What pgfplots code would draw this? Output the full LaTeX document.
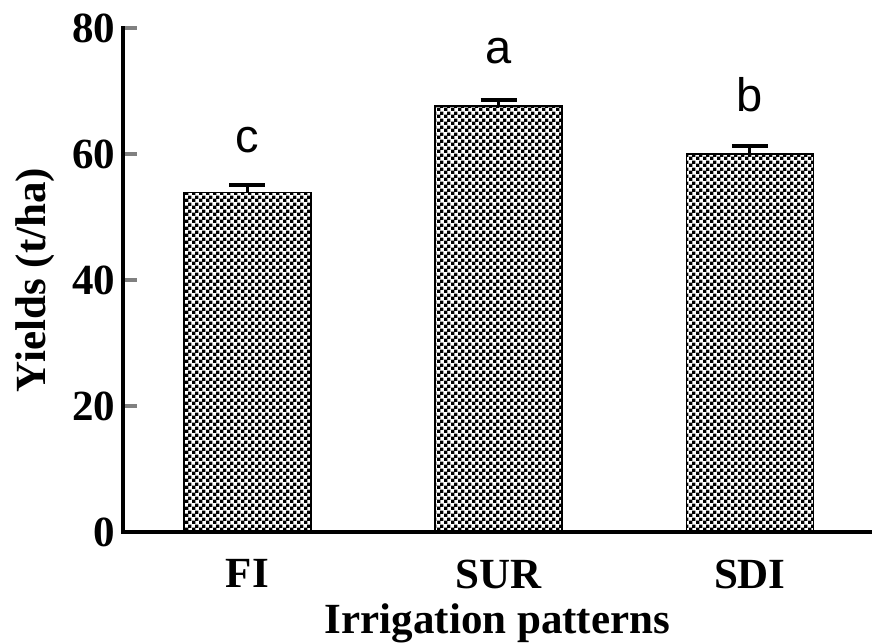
\documentclass[border=0pt]{standalone}
\usepackage{fontspec}
\setmainfont{Liberation Serif}
\newfontfamily\arialfont{Liberation Sans}
\usepackage{pgfplots}
\pgfplotsset{compat=1.18}
\usetikzlibrary{patterns.meta}
\pgfdeclarepattern{
  name=bigcheck,
  type=uncolored,
  bottom left={\pgfpointorigin},
  top right={\pgfqpoint{6.6pt}{6.6pt}},
  tile size={\pgfqpoint{6.6pt}{6.6pt}},
  code={
    \pgfpathrectangle{\pgfpointorigin}{\pgfqpoint{3.5pt}{3.5pt}}
    \pgfpathrectangle{\pgfqpoint{3.3pt}{3.3pt}}{\pgfqpoint{3.5pt}{3.5pt}}
    \pgfusepath{fill}
  }
}
\pgfplotstableread{
x y err
1 53.9 1.2
2 67.6 1.0
3 60.0 1.25
}\yields
\begin{document}
\begin{tikzpicture}
\begin{axis}[
  scale only axis,
  width=749pt, height=504pt,
  xmin=0.505, xmax=3.486,
  ymin=0, ymax=80,
  axis x line=bottom, axis y line=left,
  axis line style={-, line width=3.5pt, line cap=rect},
  xtick={1,2,3},
  xticklabels={FI,SUR,SDI},
  xtick style={draw=none},
  ytick={0,20,40,60,80},
  ytick style={line width=3.5pt},
  tick align=inside,
  major tick length=14pt,
  /pgf/number format/assume math mode=true,
  tick label style={font=\fontsize{43}{43}\selectfont\bfseries},
  xticklabel style={yshift=-10pt},
  yticklabel style={xshift=-4pt},
  xlabel={Irrigation patterns},
  ylabel={Yields (t/ha)},
  label style={font=\fontsize{43}{43}\selectfont\bfseries},
  xlabel style={yshift=-8pt},
  ylabel style={yshift=11pt},
  ybar, bar width=127pt,
  clip=false,
]
\addplot[draw=black, line width=1.5pt, pattern=bigcheck, pattern color=black,
  error bars/.cd, y dir=plus, y explicit,
  error bar style={line width=3pt, black},
  error mark options={rotate=90, mark size=18pt, line width=4.5pt, black}]
  table[x=x, y=y, y error=err] {\yields};
\node[anchor=base, font=\fontsize{47}{47}\selectfont\arialfont] at (axis cs:1,60.2) {c};
\node[anchor=base, font=\fontsize{47}{47}\selectfont\arialfont] at (axis cs:2,74.3) {a};
\node[anchor=base, font=\fontsize{47}{47}\selectfont\arialfont] at (axis cs:3,66.7) {b};
\coordinate (O) at (rel axis cs:0,0);
\end{axis}
\pgfresetboundingbox
\path[use as bounding box] ([shift={(-123pt,-111pt)}]O) rectangle ([shift={(749pt,532pt)}]O);
\end{tikzpicture}
\end{document}
